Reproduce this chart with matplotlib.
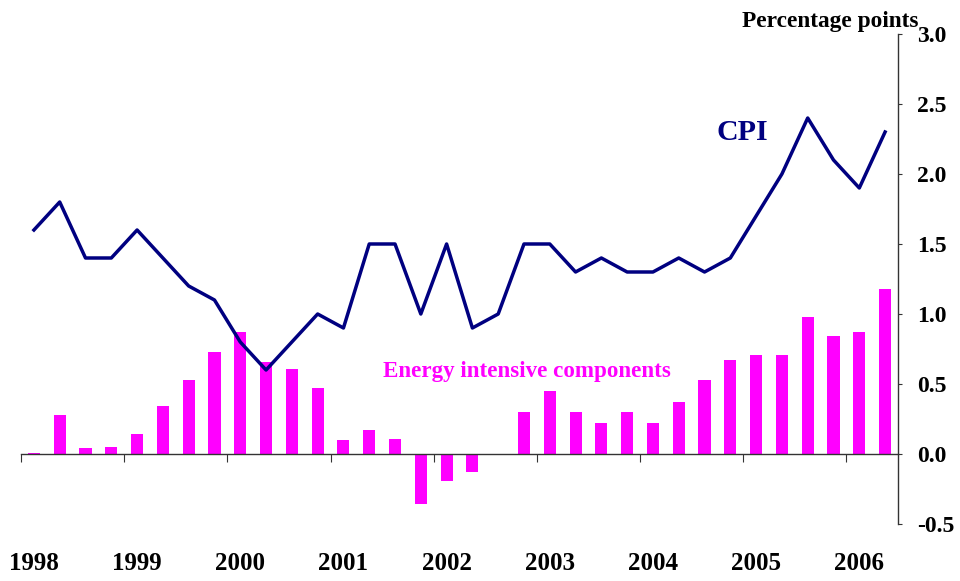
import matplotlib
matplotlib.use("Agg")
import matplotlib.pyplot as plt
import matplotlib.transforms as mtransforms
import numpy as np

plt.rcParams['font.family'] = ['Liberation Serif', 'DejaVu Serif']
plt.rcParams['font.weight'] = 'bold'

# quarterly data, 1998 Q1 .. 2006 Q2
years = ['1998', '1999', '2000', '2001', '2002', '2003', '2004', '2005', '2006']
cpi = [1.6, 1.8, 1.4, 1.4, 1.6, 1.4, 1.2, 1.1,
       0.8, 0.6, 0.8, 1.0, 0.9, 1.5, 1.5, 1.0,
       1.5, 0.9, 1.0, 1.5, 1.5, 1.3, 1.4, 1.3,
       1.3, 1.4, 1.3, 1.4, 1.7, 2.0, 2.4, 2.1,
       1.9, 2.3]
energy = [0.01, 0.28, 0.04, 0.05, 0.14, 0.34, 0.53, 0.73,
          0.87, 0.66, 0.61, 0.47, 0.10, 0.17, 0.11, -0.36,
          -0.19, -0.13, 0.0, 0.30, 0.45, 0.30, 0.22, 0.30,
          0.22, 0.37, 0.53, 0.67, 0.71, 0.71, 0.98, 0.84,
          0.87, 1.18]

x = np.arange(len(cpi))

fig = plt.figure(figsize=(9.6, 5.81), dpi=100)
ax = fig.add_axes([0.0219, 0.0981, 0.9135, 0.8434])

ax.bar(x, energy, width=0.47, color='#ff00ff', zorder=2)
ax.plot(x, cpi, color='#000080', linewidth=2.5, zorder=3)

ax.set_xlim(-0.5, 33.5)
ax.set_ylim(-0.5, 3.0)

# y axis on the right
ax.yaxis.tick_right()
ax.spines['left'].set_visible(False)
ax.spines['top'].set_visible(False)
ax.spines['bottom'].set_position(('data', 0))
for s in ['right', 'bottom']:
    ax.spines[s].set_color('#333333')
    ax.spines[s].set_linewidth(1.0)
ax.set_yticks(np.arange(-0.5, 3.01, 0.5))
ax.set_yticklabels([f'{v:.1f}' for v in np.arange(-0.5, 3.01, 0.5)])
ax.tick_params(axis='y', direction='out', length=3, pad=11, labelsize=17,
               color='#333333')

# year boundary ticks, labels under the plot
ax.set_xticks(np.arange(-0.5, 33, 4))
ax.set_xticklabels([])
ax.tick_params(axis='x', direction='out', length=6, color='#333333')
trans = mtransforms.blended_transform_factory(ax.transData, ax.transAxes)
for i, yr in enumerate(years):
    ax.text(i * 4, -0.094, yr, transform=trans, ha='center', va='baseline',
            fontsize=18, fontweight='bold')

ax.text(26.48, 2.243, 'CPI', color='#000080', fontsize=21.5, fontweight='bold',
        ha='left', va='baseline')
ax.text(13.53, 0.55, 'Energy intensive components', color='#ff00ff',
        fontsize=16.6, fontweight='bold', ha='left', va='baseline')

fig.text(918 / 960, 1 - 27 / 581, 'Percentage points', fontsize=16.8,
         fontweight='bold', ha='right', va='baseline')

fig.savefig('out.png', dpi=100)
